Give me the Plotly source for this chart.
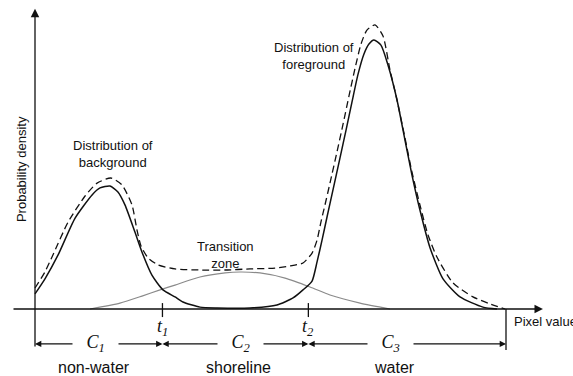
import plotly.graph_objects as go

# ---- data: pixel value (0-255) vs. probability density (arbitrary units, foreground peak = 100)
mixture_x = [0, 5.4, 12.5, 21.7, 30.9, 35.2, 40.6, 44.9, 48.7, 54.1, 57.9, 63.3, 69.3, 75.8,
             80.1, 89.3, 98.5, 116.4, 131.0, 139.7, 145.1, 150.0, 152.7, 155.4, 158.1, 161.3,
             165.1, 168.4, 171.6, 174.9, 178.1, 180.8, 183.5, 187.3, 191.1, 196.0, 200.3,
             204.1, 208.4, 213.9, 220.9, 230.1, 242.5, 250.1]
mixture_y = [5.6, 11.2, 20.1, 33.8, 42.4, 45.0, 45.7, 43.5, 38.7, 28.6, 21.2, 12.6, 7.1, 4.5,
             2.6, 0.7, 0.4, 0.4, 1.5, 4.1, 7.1, 10.4, 17.5, 25.6, 34.2, 44.2,
             56.1, 66.5, 76.9, 87.3, 94.8, 98.5, 100.0, 98.1, 90.7, 77.7, 62.8,
             49.8, 36.8, 22.7, 11.2, 4.5, 0.7, 0.0]

total_x = [0, 5.4, 9.7, 17.9, 27.1, 33.6, 41.1, 47.1, 52.5, 55.2, 57.4, 61.2, 66.6, 75.8,
           89.3, 102.9, 116.4, 129.9, 138.1, 145.1, 150.0, 152.7, 154.8, 157.0, 159.7, 163.5,
           166.8, 170.0, 173.3, 176.5, 179.7, 184.1, 188.4, 192.2, 196.0, 200.3, 204.1,
           208.4, 212.8, 217.6, 226.3, 237.1, 246.3, 254.5]
total_y = [7.8, 13.8, 20.1, 32.3, 42.0, 46.8, 48.7, 46.1, 38.7, 29.4, 23.4, 19.0, 16.4, 14.9,
           14.5, 14.5, 14.9, 15.2, 16.0, 17.1, 20.8, 25.6, 32.3, 38.7, 46.8, 58.4,
           68.8, 79.2, 89.6, 98.5, 103.7, 105.6, 101.5, 88.8, 77.7, 63.6, 50.9,
           38.7, 27.5, 19.3, 9.7, 4.5, 1.9, 0.0]

transition_x = [29.8, 46.0, 57.9, 67.7, 75.8, 89.3, 102.9, 111.0, 121.8, 135.4, 148.9,
                159.7, 176.0, 192.2]
transition_y = [0.0, 2.2, 4.8, 7.1, 8.9, 11.9, 13.4, 13.75, 13.4, 11.5, 8.2,
                5.2, 2.2, 0.0]

thresholds = [69, 148]                  # t1, t2
threshold_names = ["1", "2"]
pixel_max = 255
class_names = ["non-water", "shoreline", "water"]
class_index = ["1", "2", "3"]

# ---- canvas geometry (data units per screen pixel)
W, H = 573, 376
KX = pixel_max / 471.0
KY = 1 / 2.69
x_range = [-35 * KX, (W - 35) * KX]
y_range = [-(H - 309) * KY, 309 * KY]

INK = "#111111"
SANS = "Liberation Sans, Arial, sans-serif"
SERIF = "Liberation Serif, Times New Roman, serif"
SMOOTH = 0.6

fig = go.Figure()

fig.add_trace(go.Scatter(x=transition_x, y=transition_y, mode="lines",
                         line=dict(color="#8a8a8a", width=1.2, shape="spline", smoothing=SMOOTH),
                         hoverinfo="skip", showlegend=False))
fig.add_trace(go.Scatter(x=mixture_x, y=mixture_y, mode="lines",
                         line=dict(color=INK, width=1.5, shape="spline", smoothing=SMOOTH),
                         hoverinfo="skip", showlegend=False))
fig.add_trace(go.Scatter(x=total_x, y=total_y, mode="lines",
                         line=dict(color=INK, width=1.3, shape="spline", smoothing=SMOOTH,
                                   dash="7px,4px"),
                         hoverinfo="skip", showlegend=False))

shapes = []
# right boundary of the pixel range
shapes.append(dict(type="line", xref="x", yref="y", x0=pixel_max, x1=pixel_max,
                   y0=0, y1=-15.2, line=dict(color=INK, width=1.3)))
# threshold ticks
for t in thresholds:
    shapes.append(dict(type="line", xref="x", yref="y", x0=t, x1=t, y0=2.2, y1=-3.0,
                       line=dict(color=INK, width=1.3)))

annotations = []


def arrow(x_head, y_head, x_tail, y_tail, size, width=1.3):
    annotations.append(dict(x=x_head, y=y_head, ax=x_tail, ay=y_tail, xref="x", yref="y",
                            axref="x", ayref="y", text="", showarrow=True, arrowhead=2,
                            arrowsize=size, arrowwidth=width, arrowcolor=INK,
                            standoff=0, startstandoff=0))


# axes with arrow tips
arrow(0, 111.6, 0, -14.5, 1.3)
arrow(275.0, 0, -12.45, 0, 1.3)

# class span arrows
bounds = [0] + thresholds + [pixel_max]
label_x = [32.5, 111.0, 192.2]
name_x = [31.9, 110.4, 194.9]
y_span = -13.0
for i in range(3):
    arrow(bounds[i], y_span, label_x[i], y_span, 1.05, 1.2)
    arrow(bounds[i + 1], y_span, label_x[i], y_span, 1.05, 1.2)

NB = "\u00a0"
for i in range(3):
    annotations.append(dict(x=label_x[i], y=y_span, xref="x", yref="y", showarrow=False,
                            text=NB * 3 + "<i>C</i><sub><i>" + class_index[i] + "</i></sub>" + NB * 3,
                            font=dict(family=SERIF, size=18, color=INK),
                            bgcolor="white", borderpad=0))
    annotations.append(dict(x=name_x[i], y=-21.6, xref="x", yref="y", showarrow=False,
                            text=class_names[i], font=dict(family=SANS, size=16, color=INK)))

for t, n in zip(thresholds, threshold_names):
    annotations.append(dict(x=t, y=-6.7, xref="x", yref="y", showarrow=False,
                            text="<i>t</i><sub><i>" + n + "</i></sub>",
                            font=dict(family=SERIF, size=18, color=INK)))

label_font = dict(family=SANS, size=13, color=INK)
annotations += [
    dict(x=-7.6, y=52.0, xref="x", yref="y", showarrow=False, textangle=-90,
         text="Probability density", font=label_font),
    dict(x=42.2, y=57.6, xref="x", yref="y", showarrow=False,
         text="Distribution of<br>background", font=label_font),
    dict(x=151.1, y=93.9, xref="x", yref="y", showarrow=False,
         text="Distribution of<br>foreground", font=label_font),
    dict(x=103.4, y=20.0, xref="x", yref="y", showarrow=False,
         text="Transition<br>zone", font=label_font),
    dict(x=258.2, y=-4.8, xref="x", yref="y", showarrow=False, xanchor="left",
         text="Pixel value", font=label_font),
]

fig.update_layout(
    width=W, height=H,
    margin=dict(l=0, r=0, t=0, b=0),
    paper_bgcolor="white", plot_bgcolor="white",
    xaxis=dict(range=x_range, visible=False, fixedrange=True),
    yaxis=dict(range=y_range, visible=False, fixedrange=True),
    shapes=shapes, annotations=annotations,
    showlegend=False,
)

fig.write_html("out.html", config={"displayModeBar": False})
